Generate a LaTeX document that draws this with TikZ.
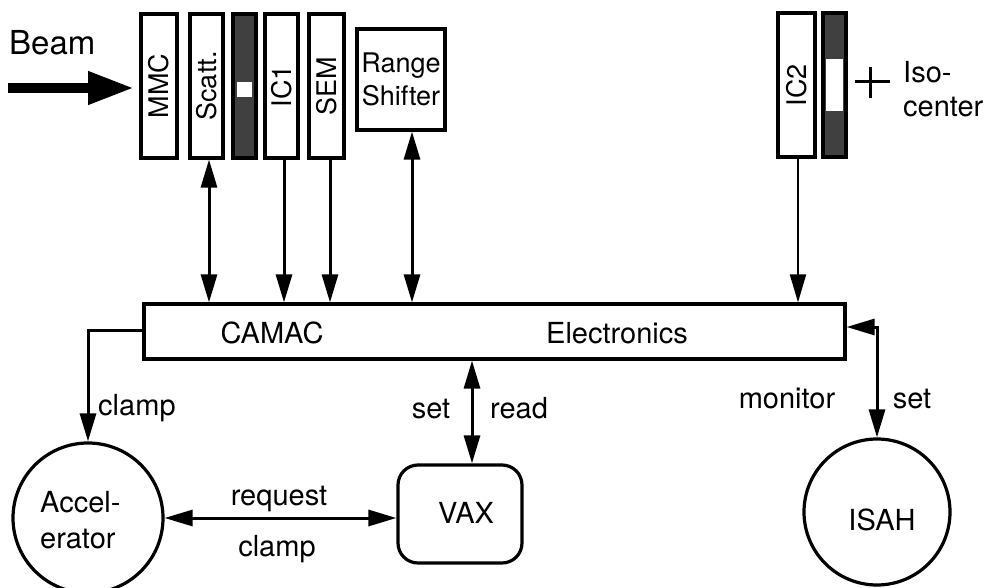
\documentclass[tikz,border=0pt]{standalone}
\usepackage{fontspec}
\usepackage{graphicx}
\setmainfont{TeX Gyre Heros}
\usetikzlibrary{arrows.meta,calc}

\tikzset{
  lbl/.style={font=\fontsize{29}{33}\selectfont, inner sep=0pt},
  box/.style={draw, line width=3.2pt, inner sep=0pt, fill=white},
  det/.style={box, minimum height=144pt, font=\fontsize{27}{30}\selectfont},
  absorber/.style={box, fill=black!75, minimum width=23pt, minimum height=144pt},
  window/.style={fill=white, inner sep=0pt},
  tip/.tip={Triangle[length=28pt,width=16pt]},
  sgl/.style={line width=3pt, -tip},
  dbl/.style={line width=3pt, tip-tip},
}

\begin{document}
\begin{tikzpicture}[x=1pt,y=-1pt]
\useasboundingbox (0,0) rectangle (988,588);

% beam entering from the left
\node[lbl, anchor=base west, font=\fontsize{33}{36}\selectfont] (beam) at (9,55) {Beam};
\coordinate (beamA) at (8,88);
\coordinate (beamB) at (134,88);
\draw[line width=10pt, -{Triangle[length=46pt,width=31pt]}] (beamA) -- (beamB);

% detectors along the beam line
\node[det, minimum width=36pt] (mmc) at (159,86) {\rotatebox{90}{MMC}};
\node[det, minimum width=33pt] (scatt) at (206.5,86) {\rotatebox{90}{Scatt.}};
\node[absorber] (abs1) at (244.5,86) {};
\node[window, minimum width=15pt, minimum height=15pt] (win1) at (244.5,89.5) {};
\node[det, minimum width=33pt] (ic1) at (281.5,86) {\rotatebox{90}{IC1}};
\node[det, minimum width=35pt] (sem) at (326.5,86) {\rotatebox{90}{SEM}};
\node[box, minimum width=88pt, minimum height=101pt, align=center,
      font=\fontsize{27}{33}\selectfont] (rs) at (401,79.5) {Range\\Shifter};

\node[det, minimum width=37pt] (ic2) at (796.5,85) {\rotatebox{90}{IC2}};
\node[absorber] (abs2) at (834.5,85) {};
\node[window, minimum width=17pt, minimum height=52pt] (win2) at (834.5,85) {};

% isocenter mark
\coordinate (iso) at (870,82);
\draw[line width=3pt] ($(iso)+(-15,0)$) -- ($(iso)+(20,0)$)
                      ($(iso)+(0,-15)$) -- ($(iso)+(0,16)$);
\node[lbl, anchor=base west] (isoA) at (903,83) {Iso-};
\node[lbl, anchor=base west] (isoB) at (903,117) {center};

% CAMAC crate
\node[box, minimum width=701pt, minimum height=55pt] (camac) at (494.5,331.5) {};
\node[lbl, anchor=base] (camacT) at (272,343) {CAMAC};
\node[lbl, anchor=base] (elecT) at (617,343) {Electronics};

% accelerator, VAX and ISAH
\node[draw, circle, line width=3.2pt, minimum size=150pt] (acc) at (88,518) {};
\node[lbl, anchor=base west] (accA) at (40,512) {Accel-};
\node[lbl, anchor=base west] (accB) at (40,548) {erator};

\node[box, rounded corners=20pt, minimum width=124pt, minimum height=98pt] (vax) at (460,514) {};
\node[lbl, anchor=base] (vaxT) at (466,523) {VAX};

\node[draw, circle, line width=3.2pt, minimum size=146pt] (isah) at (877,512) {};
\node[lbl, anchor=base] (isahT) at (882,530) {ISAH};

% signal connections to the crate
\draw[dbl] ([xshift=2.5pt]scatt.south) -- ([xshift=2.5pt]scatt.south |- camac.north);
\draw[sgl] ([xshift=2.5pt]ic1.south) -- ([xshift=2.5pt]ic1.south |- camac.north);
\draw[sgl] ([xshift=3.5pt]sem.south) -- ([xshift=3.5pt]sem.south |- camac.north);
\draw[dbl] ([xshift=11pt]rs.south) -- ([xshift=11pt]rs.south |- camac.north);
\draw[sgl, line width=2pt] ([xshift=1.5pt]ic2.south) -- ([xshift=1.5pt]ic2.south |- camac.north);

% clamp line to the accelerator
\draw[sgl] ([yshift=1.5pt]camac.west) -| (acc.north);
\node[lbl, anchor=base west] (clampA) at (98,415) {clamp};

% accelerator <-> VAX
\draw[dbl] (acc.east) -- (acc.east -| vax.west);
\node[lbl, anchor=base] (reqT) at (279,505) {request};
\node[lbl, anchor=base] (clampB) at (277,556) {clamp};

% VAX <-> CAMAC
\draw[dbl] ([xshift=12pt]vax.north) -- ([xshift=12pt]vax.north |- camac.south);
\node[lbl, anchor=base] (setA) at (431,418) {set};
\node[lbl, anchor=base] (readT) at (519,418) {read};

% CAMAC <-> ISAH
\draw[dbl] ([yshift=4.5pt]camac.east) -| (isah.north);
\node[lbl, anchor=base] (monT) at (787,408) {monitor};
\node[lbl, anchor=base] (setB) at (912,408) {set};
\end{tikzpicture}
\end{document}
